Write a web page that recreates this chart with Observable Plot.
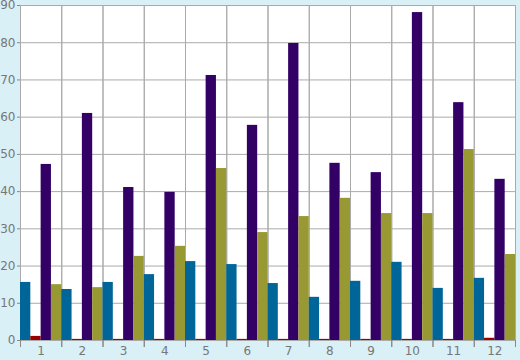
<!DOCTYPE html>
<html><head><meta charset="utf-8">
<script src="https://cdn.jsdelivr.net/npm/d3@7"></script>
<script src="https://cdn.jsdelivr.net/npm/@observablehq/plot@0.6"></script>
<style>
body{margin:0;background:#d9f0f7;}
#chart svg{display:block;}
</style>
</head><body><div id="chart"></div>
<script>
const categories = ["1","2","3","4","5","6","7","8","9","10","11","12"];
const seriesNames = ["S1","S2","S3","S4"];
const seriesColors = ["#006699","#990000","#330066","#999933"];
const s1 = [15.6,13.7,15.6,17.7,21.2,20.4,15.3,11.6,15.9,21.0,14.0,16.7];
const s2 = [1.1,0.3,0.3,0.3,0.3,0.3,0.3,0.3,0.3,0.3,0.3,0.6];
const s3 = [47.3,61.0,41.1,39.8,71.2,57.8,79.8,47.6,45.1,88.1,63.9,43.3];
const s4 = [15.0,14.2,22.6,25.3,46.2,29.0,33.3,38.2,34.1,34.1,51.3,23.1];
const yTicks = [0,10,20,30,40,50,60,70,80,90];

const allSeries = [s1,s2,s3,s4];
const data = [];
categories.forEach((c,i)=>allSeries.forEach((s,j)=>data.push({cat:c, series:seriesNames[j], value:s[i]})));

const chart = Plot.plot({
  width:520, height:360,
  marginLeft:20, marginRight:5, marginTop:5, marginBottom:20,
  style:{background:"#d9f0f7", fontFamily:"DejaVu Sans, sans-serif", fontSize:"12px", color:"#777"},
  fx:{domain:categories, padding:0, round:false, label:null},
  x:{domain:seriesNames, padding:0, round:false, axis:null},
  y:{domain:[0,90], label:null},
  color:{domain:seriesNames, range:seriesColors},
  marks:[
    Plot.frame({fill:"white", stroke:null}),
    Plot.gridY(yTicks, {stroke:"#aaa", strokeOpacity:1}),
    Plot.frame({stroke:"#aaa", strokeWidth:1}),
    Plot.barY(data, {fx:"cat", x:"series", y:"value", fill:"series", inset:0}),
    Plot.frame({anchor:"left", stroke:"#888", insetTop:335, insetBottom:-6}),
    Plot.frame({anchor:"right", stroke:"#888", insetTop:335, insetBottom:-6}),
    Plot.axisY(yTicks, {tickSize:3, tickPadding:2, stroke:"#888", fill:"#777", fontSize:12, label:null}),
    Plot.axisFx({anchor:"bottom", tickSize:0, tickPadding:6, fill:"#777", fontSize:12, label:null})
  ]
});
document.getElementById("chart").appendChild(chart);
</script></body></html>
